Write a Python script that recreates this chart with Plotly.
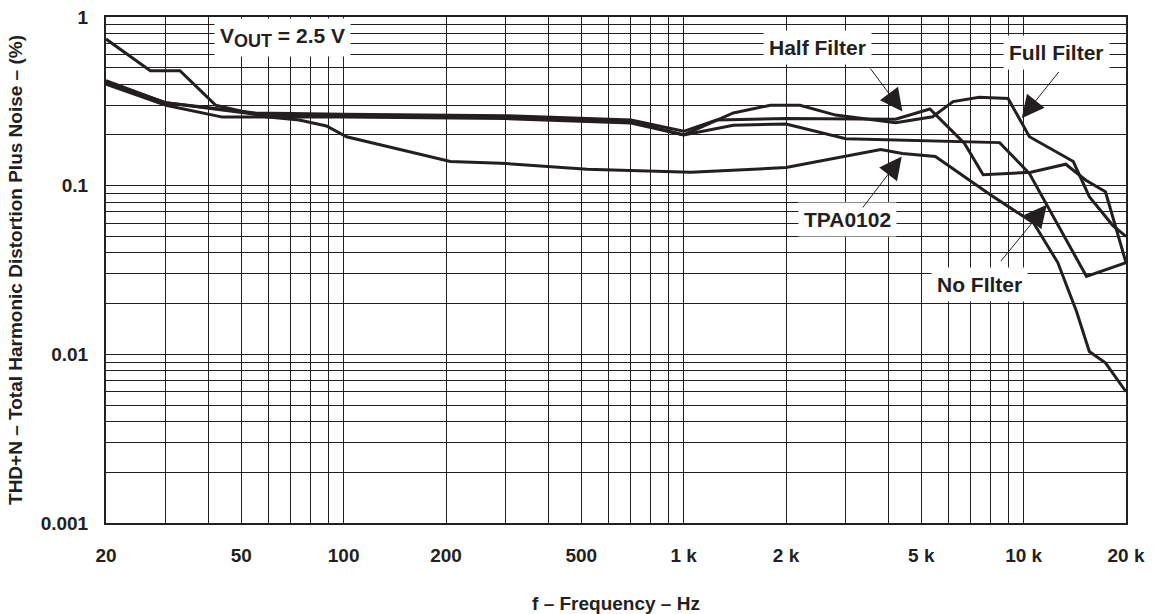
import numpy as np
import plotly.graph_objects as go

# THD+N vs frequency, four measured curves (Hz, %)
FREQ_TPA = [20, 27, 33, 42, 59, 74, 89, 102, 206, 290, 520, 1050, 2000, 3100,
            3800, 4400, 5500, 8000, 10700, 12600, 14300, 15600, 17400, 20000]
THD_TPA = [0.74, 0.48, 0.48, 0.30, 0.256, 0.245, 0.226, 0.195, 0.139, 0.136,
           0.125, 0.12, 0.128, 0.152, 0.164, 0.155, 0.149, 0.088, 0.06, 0.035,
           0.018, 0.0104, 0.0089, 0.006]

FREQ_NO = [20, 30, 44, 100, 300, 700, 1000, 1400, 2000, 3000, 8500, 10400,
           15300, 20000]
THD_NO = [0.40, 0.30, 0.255, 0.255, 0.25, 0.235, 0.20, 0.228, 0.232, 0.19,
          0.18, 0.118, 0.029, 0.035]

FREQ_HALF = [20, 30, 55, 100, 300, 700, 1000, 1250, 2000, 4200, 5300, 6700,
             7600, 10500, 13300, 15200, 17400, 20000]
THD_HALF = [0.41, 0.31, 0.27, 0.265, 0.26, 0.245, 0.21, 0.245, 0.25, 0.248,
            0.285, 0.178, 0.116, 0.12, 0.134, 0.108, 0.092, 0.035]

FREQ_FULL = [20, 30, 55, 100, 300, 700, 1000, 1400, 1800, 2200, 2800, 4200,
             5400, 6200, 7400, 9000, 10400, 14000, 15600, 18300, 20000]
THD_FULL = [0.42, 0.31, 0.265, 0.26, 0.255, 0.24, 0.2, 0.27, 0.30, 0.30,
            0.262, 0.236, 0.256, 0.315, 0.334, 0.329, 0.195, 0.139, 0.086,
            0.058, 0.05]

X_LABELS = {20: "20", 50: "50", 100: "100", 200: "200", 500: "500",
            1000: "1 k", 2000: "2 k", 5000: "5 k", 10000: "10 k", 20000: "20 k"}
Y_LABELS = {1: "1", 0.1: "0.1", 0.01: "0.01", 0.001: "0.001"}

INK = "#231f20"
FONT = "Liberation Sans, Arial, sans-serif"

xgrid = [m * 10 ** e for e in range(1, 5) for m in range(1, 10) if 20 <= m * 10 ** e <= 20000]
ygrid = [round(m * 10.0 ** e, 6) for e in range(-3, 0) for m in range(1, 10)] + [1]

fig = go.Figure()
for name, fx, fy in [("TPA0102", FREQ_TPA, THD_TPA), ("No Filter", FREQ_NO, THD_NO),
                     ("Half Filter", FREQ_HALF, THD_HALF), ("Full Filter", FREQ_FULL, THD_FULL)]:
    fig.add_trace(go.Scatter(x=fx, y=fy, mode="lines", name=name,
                             line=dict(color=INK, width=3)))

# label boxes (freq, value, text)
labels = [
    (66, 0.76, 'V<sub><span style="font-size:18px">OUT</span></sub> = 2.5 V'),
    (2480, 0.655, "Half Filter"),
    (12500, 0.612, "Full Filter"),
    (3040, 0.0626, "TPA0102"),
    (7440, 0.0258, "No FIlter"),
]
for f, v, t in labels:
    fig.add_annotation(x=np.log10(f), y=np.log10(v), text=t, showarrow=False,
                       bgcolor="white", borderpad=5,
                       font=dict(family=FONT, size=21, color=INK, weight="bold"))

# arrows (tip freq, tip value, tail offset px)
arrows = [
    (4400, 0.275, -35, -47),
    (9870, 0.251, 40, -50),
    (4380, 0.149, -42, 55),
    (11700, 0.077, -49, 60),
]
for f, v, ax, ay in arrows:
    fig.add_annotation(x=np.log10(f), y=np.log10(v), text=" ", showarrow=True,
                       ax=ax, ay=ay, arrowhead=2, arrowsize=4.5, arrowwidth=1,
                       arrowcolor=INK)

fig.update_layout(
    width=1154, height=614,
    paper_bgcolor="white", plot_bgcolor="white",
    margin=dict(l=106, r=28, t=17, b=91),
    showlegend=False,
    font=dict(family=FONT, color=INK),
    xaxis=dict(
        type="log", range=[np.log10(20), np.log10(20000)], automargin=False,
        tickvals=xgrid, ticktext=[X_LABELS.get(v, "") for v in xgrid],
        tickfont=dict(size=19, weight="bold"), ticklabelstandoff=14,
        showgrid=True, gridcolor=INK, gridwidth=1,
        showline=True, linecolor=INK, linewidth=2, mirror=True, ticks="",
        title=dict(text="f – Frequency – Hz", standoff=38,
                   font=dict(size=19, weight="bold")),
    ),
    yaxis=dict(
        type="log", range=[-3, 0], automargin=False,
        tickvals=ygrid, ticktext=[Y_LABELS.get(v, "") for v in ygrid],
        tickfont=dict(size=19, weight="bold"), ticklabelstandoff=12,
        showgrid=True, gridcolor=INK, gridwidth=1,
        showline=True, linecolor=INK, linewidth=2, mirror=True, ticks="",
        title=dict(text="THD+N – Total Harmonic Distortion Plus Noise – (%)",
                   standoff=13, font=dict(size=19, weight="bold")),
    ),
)

fig.write_html("out.html", config={"displayModeBar": False},
               post_script="document.body.style.margin = '0';")
